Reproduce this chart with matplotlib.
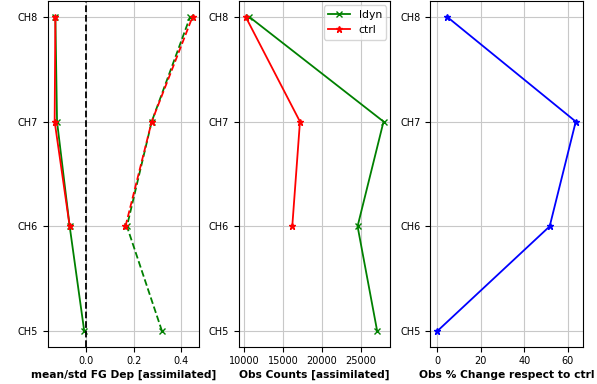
import matplotlib
matplotlib.use("Agg")
import matplotlib.pyplot as plt
import numpy as np

channels = ["CH5", "CH6", "CH7", "CH8"]
ctrl_channels = ["CH6", "CH7", "CH8"]

# first-guess departure statistics (normalised)
ldyn_mean = [-0.007, -0.068, -0.121, -0.128]
ldyn_std = [0.319, 0.172, 0.276, 0.437]
ctrl_mean = [-0.068, -0.131, -0.128]
ctrl_std = [0.166, 0.276, 0.447]

# number of assimilated observations
ldyn_counts = [27090, 24570, 27910, 10640]
ctrl_counts = [16170, 17160, 10180]

# percentage change of observation counts relative to ctrl
pct_change = [0.0, 51.7, 63.7, 4.5]

tick_fs = 7.0
label_fs = 7.7
lw = 1.3
fig = plt.figure(figsize=(5.97, 3.84), dpi=100)
bottom, height = 0.097, 0.900
ax1 = fig.add_axes([0.080, bottom, 0.254, height])
ax2 = fig.add_axes([0.400, bottom, 0.254, height])
ax3 = fig.add_axes([0.721, bottom, 0.255, height])

y_all = np.arange(len(channels))
y_ctrl = np.array([channels.index(c) for c in ctrl_channels])

# panel 1: mean (solid) and std (dashed)
ax1.plot(ldyn_mean, y_all, color="green", marker="x", ms=4, lw=lw)
ax1.plot(ldyn_std, y_all, color="green", marker="x", ms=4, lw=lw, ls="--")
ax1.plot(ctrl_mean, y_ctrl, color="red", marker="*", ms=5, lw=lw)
ax1.plot(ctrl_std, y_ctrl, color="red", marker="*", ms=5, lw=lw, ls="--")
ax1.axvline(0, color="black", ls="--", lw=lw)
ax1.set_xlabel("mean/std FG Dep [assimilated]", fontsize=label_fs,
               fontweight="bold", labelpad=2.5)

# panel 2: observation counts
ax2.plot(ldyn_counts, y_all, color="green", marker="x", ms=4, lw=lw, label="ldyn")
ax2.plot(ctrl_counts, y_ctrl, color="red", marker="*", ms=5, lw=lw, label="ctrl")
ax2.set_xlabel("Obs Counts [assimilated]", fontsize=label_fs,
               fontweight="bold", labelpad=2.5)
ax2.legend(loc="upper right", fontsize=7.8, borderaxespad=0.4)

# panel 3: relative change
ax3.plot(pct_change, y_all, color="blue", marker="*", ms=5, lw=lw)
ax3.set_xlabel("Obs % Change respect to ctrl", fontsize=label_fs,
               fontweight="bold", labelpad=2.5)

for ax in (ax1, ax2, ax3):
    ax.set_yticks(y_all)
    ax.set_yticklabels(channels)
    ax.tick_params(labelsize=tick_fs)
    ax.grid(True, color="#c8c8c8")
    ax.set_axisbelow(True)

fig.savefig("out.png", dpi=100)
